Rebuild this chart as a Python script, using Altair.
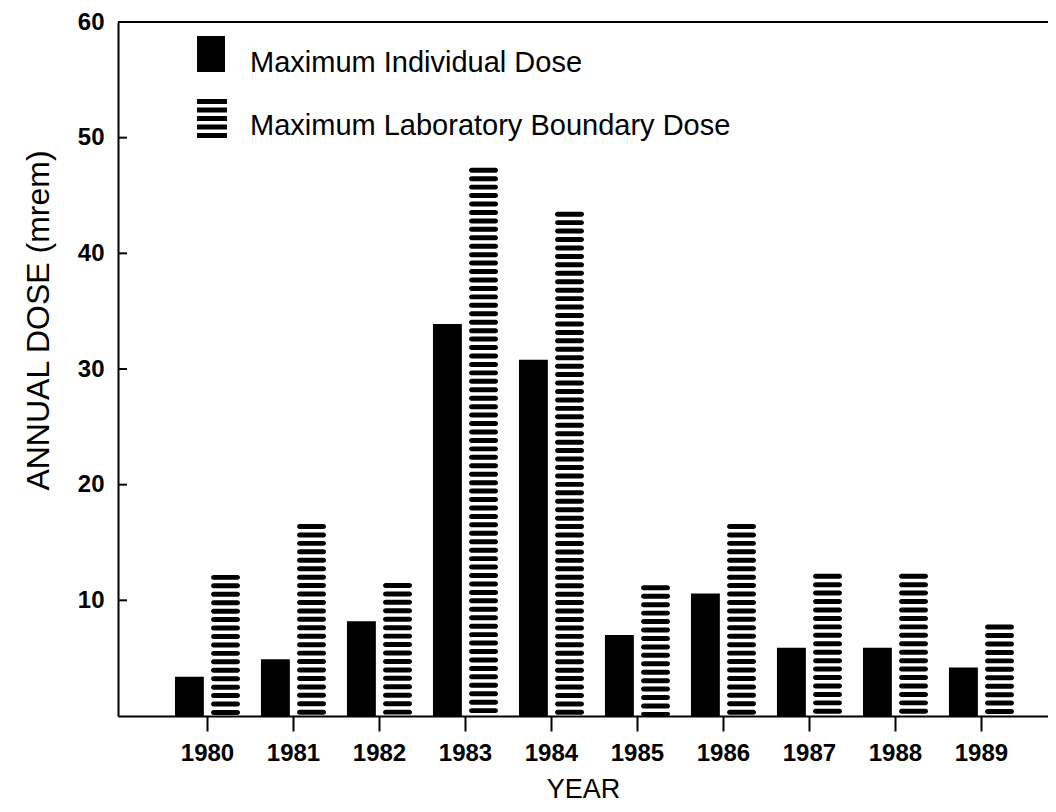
import altair as alt
import pandas as pd

# ---- data ----
years = ["1980", "1981", "1982", "1983", "1984", "1985", "1986", "1987", "1988", "1989"]
individual_dose = [3.4, 4.9, 8.2, 33.9, 30.8, 7.0, 10.6, 5.9, 5.9, 4.2]
boundary_dose = [12.2, 16.6, 11.5, 47.4, 43.6, 11.3, 16.6, 12.3, 12.3, 7.9]
series_names = ["Maximum Individual Dose", "Maximum Laboratory Boundary Dose"]
y_tick_values = [10, 20, 30, 40, 50, 60]
inner_tick_values = [10, 20, 30, 40, 50]

rows = []
for yr, a, b in zip(years, individual_dose, boundary_dose):
    rows.append({"year": yr, "series": series_names[0], "dose": a})
    rows.append({"year": yr, "series": series_names[1], "dose": b})
df = pd.DataFrame(rows)

FONT = "Liberation Sans"
STRIPE_STEP = 0.73   # spacing of the horizontal hatch stripes (axis units)
STRIPE_THICK = 0.43  # thickness of one stripe (axis units)

x_enc = alt.X(
    "year:N",
    title="YEAR",
    scale=alt.Scale(domain=years, paddingInner=0.244, paddingOuter=0.529, align=0.626),
    axis=alt.Axis(
        labelAngle=0, labelFont=FONT, labelFontSize=24, labelFontWeight="bold",
        labelColor="black", labelPadding=10,
        tickSize=15, tickWidth=2, tickColor="black",
        domainColor="black", domainWidth=2, grid=False,
        titleFont=FONT, titleFontSize=27, titleFontWeight="normal", titleColor="black",
        titleY=81, titleBaseline="alphabetic",
    ),
)
xoff_enc = alt.XOffset(
    "series:N", scale=alt.Scale(domain=series_names, paddingInner=0.2, paddingOuter=0)
)
y_scale = alt.Scale(domain=[0, 60], nice=False, zero=True)
y_axis = alt.Axis(
    values=y_tick_values, ticks=False, tickSize=0, labelPadding=14,
    labelFont=FONT, labelFontSize=24, labelFontWeight="bold", labelColor="black",
    domainColor="black", domainWidth=2, grid=False,
    title="ANNUAL DOSE (mrem)", titleFont=FONT, titleFontSize=32, titleFontWeight="normal",
    titleColor="black", titleAngle=270, titleX=-70, titleY=298,
    titleAlign="center", titleBaseline="alphabetic",
)

solid = alt.Chart(df).transform_filter(
    alt.datum.series == series_names[0]
).mark_bar(color="black").encode(
    x=x_enc,
    xOffset=xoff_enc,
    y=alt.Y("dose:Q", scale=y_scale, axis=y_axis),
)

hatched = alt.Chart(df).transform_filter(
    alt.datum.series == series_names[1]
).transform_calculate(
    k=f"sequence(0, datum.dose, {STRIPE_STEP})"
).transform_flatten(["k"]).transform_calculate(
    top="datum.dose - datum.k",
    bot=f"max(0, datum.dose - datum.k - {STRIPE_THICK})",
).transform_filter("datum.top > 0.2").mark_bar(color="black", cornerRadius=2.5).encode(
    x=x_enc,
    xOffset=xoff_enc,
    y=alt.Y("bot:Q", scale=y_scale, axis=y_axis),
    y2="top:Q",
)

inner_ticks = alt.Chart(pd.DataFrame({"t": inner_tick_values})).mark_rule(
    color="black", strokeWidth=2
).encode(
    y=alt.Y("t:Q", scale=y_scale, axis=y_axis),
    x=alt.value(0),
    x2=alt.value(9),
)

top_line = alt.Chart(alt.Data(values=[{}])).mark_rule(color="black", strokeWidth=2).encode(
    y=alt.value(0)
)

one = alt.Data(values=[{}])
legend_solid = alt.Chart(one).mark_rect(color="black").encode(
    x=alt.value(79), x2=alt.value(107), y=alt.value(14), y2=alt.value(50)
)
legend_hatch = alt.Chart(one).mark_rule(
    color="black", strokeWidth=30, strokeDash=[5, 3.5], strokeCap="butt"
).encode(x=alt.value(94), y=alt.value(77), y2=alt.value(116))
legend_text1 = alt.Chart(one).mark_text(
    align="left", baseline="alphabetic", font=FONT, fontSize=29, color="black"
).encode(x=alt.value(132), y=alt.value(50), text=alt.value(series_names[0]))
legend_text2 = alt.Chart(one).mark_text(
    align="left", baseline="alphabetic", font=FONT, fontSize=29, color="black"
).encode(x=alt.value(132), y=alt.value(113), text=alt.value(series_names[1]))

chart = alt.layer(
    solid, hatched, inner_ticks, top_line,
    legend_solid, legend_hatch, legend_text1, legend_text2,
).properties(
    width=930,
    height=694,
    padding={"left": 110, "top": 14, "right": 0, "bottom": 88},
    autosize=alt.AutoSizeParams(type="none"),
    background="white",
).configure_view(stroke=None)

chart.save("out.html", embed_options={"renderer": "svg", "actions": False})
